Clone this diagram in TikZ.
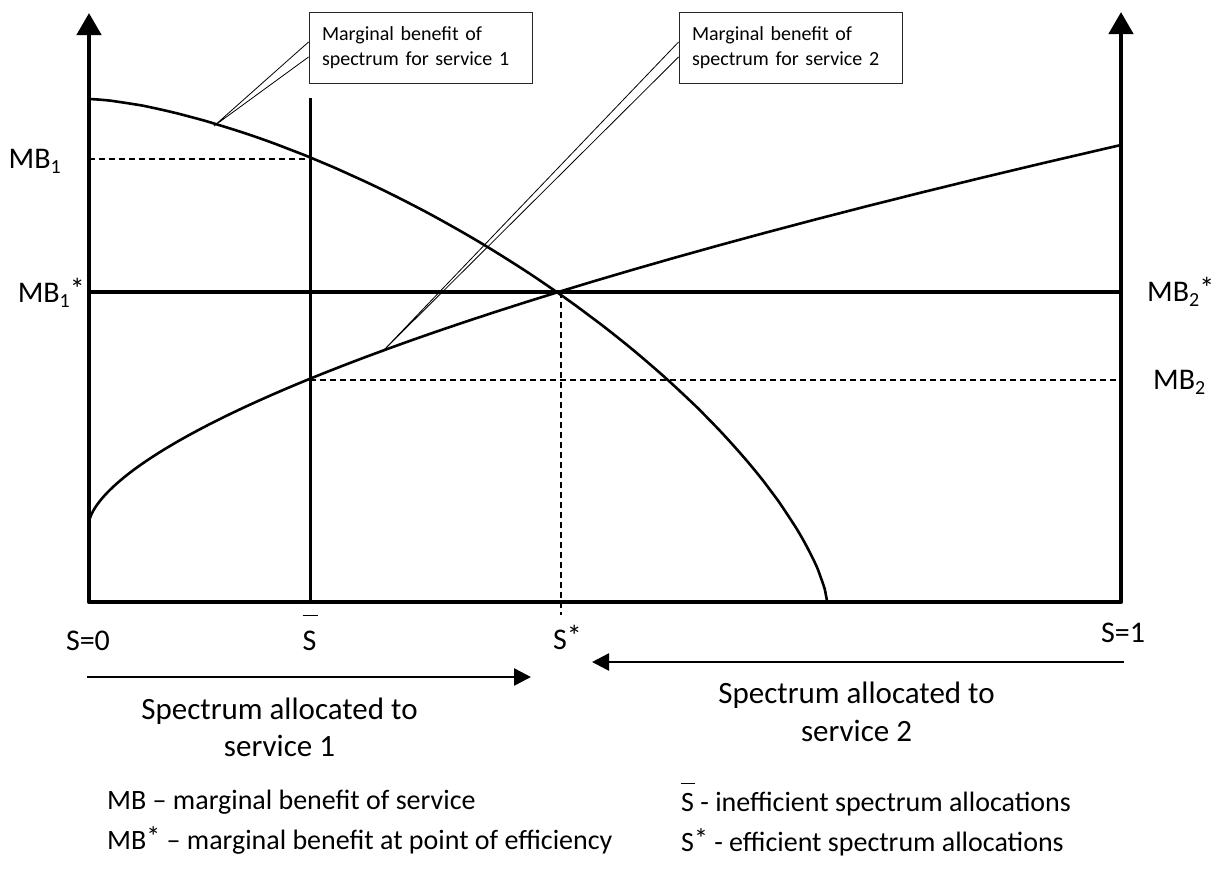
\documentclass[tikz,border=0pt]{standalone}
\usepackage{fontspec}
\setmainfont{Carlito}
\usetikzlibrary{arrows.meta,calc}

% lowered subscript for the MB labels
\newcommand{\lo}[1]{\raisebox{-5pt}{\fontsize{20}{20}\selectfont #1}}
% raised asterisk
\newcommand{\st}{\raisebox{0.1em}{*}}
% S with a bar above it; the argument is the height of the bar
\newcommand{\barS}[1]{\makebox[0pt][l]{\raisebox{#1}{\rule{0.5em}{1.5pt}}}S}

\begin{document}
\begin{tikzpicture}[x=1pt,y=-1pt,
  axis/.style={line width=4.5pt, line join=round,
    {Triangle[length=22pt,width=24pt]}-{Triangle[length=22pt,width=24pt]}},
  curve/.style={line width=2.6pt, line join=round},
  level/.style={line width=3.8pt},
  guide/.style={line width=1.2pt, dash pattern=on 6pt off 4pt},
  flow/.style={line width=2.5pt, -{Triangle[length=17pt,width=17pt]}},
  callbox/.style={draw=black!85, line width=0.9pt, fill=white,
    minimum width=223pt, minimum height=71pt, inner sep=0pt,
    text width=197pt, align=left, font=\fontsize{20}{25}\selectfont},
  wedge/.style={draw=black, line width=0.8pt, fill=white},
  mblab/.style={inner sep=0pt, font=\fontsize{30}{30}\selectfont},
  slab/.style={inner sep=0pt, anchor=base, font=\fontsize{30}{30}\selectfont},
  flowlab/.style={inner sep=0pt, anchor=base, font=\fontsize{31}{31}\selectfont},
  legend/.style={inner sep=0pt, anchor=base west, font=\fontsize{28}{28}\selectfont}
]
\useasboundingbox (0,0) rectangle (1217,879);

% key points
\coordinate (eq) at (561,292);
\coordinate (tip1) at (214,126);
\coordinate (tip2) at (382,352);
\coordinate (mb1top) at (89,99);
\coordinate (mb1end) at (827,602);
\coordinate (mb2start) at (89,523);
\coordinate (mb2end) at (1121,145);

% callout pointers (under the curves)
\node[callbox] (cb1) at (420.5,47.5) {Marginal benefit of\\spectrum for service 1};
\node[callbox] (cb2) at (790.5,47.5) {Marginal benefit of\\spectrum for service 2};
\filldraw[wedge] ($(cb1.west)+(0,-5.5)$) -- (tip1) -- ($(cb1.west)+(0,9.5)$);
\filldraw[wedge] ($(cb2.west)+(0,-5.5)$) -- (tip2) -- ($(cb2.west)+(0,9.5)$);
\node[callbox] at (cb1) {Marginal benefit of\\spectrum for service 1};
\node[callbox] at (cb2) {Marginal benefit of\\spectrum for service 2};

% guide lines
\draw[guide] (89,159) -- (310,159);
\draw[guide] (310,380) -- (1121,380);
\draw[guide] (eq) -- (561,615);

% inefficient allocation and efficient level
\draw[line width=3pt] (310,98) -- (310,602);
\draw[level] (89,292) -- (1121,292);

% marginal benefit of service 1: (u/738)^1.5 + (h/503)^1.45 = 1
\draw[curve] (mb1end) -- plot[smooth, domain=0.05:89.95, samples=70, variable=\t]
  ({89+738*exp(1.3333*ln(cos(\t)))},{602-503*exp(1.3793*ln(sin(\t)))}) -- (mb1top);

% marginal benefit of service 2: h grows as u^(5/8); r^5 and r^8 keep it exact
\draw[curve] (mb2start) -- plot[domain=0:1, samples=120, variable=\r]
  ({89+1032*(\r*\r*\r*\r)*(\r*\r*\r*\r)},{523-378*(\r*\r*\r*\r*\r)}) -- (mb2end);

% axes
\draw[axis] (89,13) -- (89,602) -- (1121,602) -- (1121,12);

% value labels
\node[mblab, anchor=base east] (mb1) at (61,168) {MB\lo{1}};
\node[mblab, anchor=base east] (mb1s) at (85,302) {MB\lo{1}\st};
\node[mblab, anchor=base west] (mb2s) at (1147,301) {MB\lo{2}\st};
\node[mblab, anchor=base west] (mb2) at (1153,389) {MB\lo{2}};

\node[slab] (s0) at (88,650) {S=0};
\node[slab] (sb) at (309.5,650) {\barS{1.13em}};
\node[slab, anchor=base west] (ss) at (553,649) {S\st};
\node[slab, anchor=base west] (s1) at (1101,642) {S=1};

% direction of allocation
\coordinate (a1s) at (87,677);
\coordinate (a1e) at (531,677);
\coordinate (a2s) at (1124,662);
\coordinate (a2e) at (592,662);
\draw[flow] (a1s) -- (a1e);
\draw[flow] (a2s) -- (a2e);

\node[flowlab] (t1a) at (279.5,719) {Spectrum allocated to};
\node[flowlab] (t1b) at (279.5,756) {service 1};
\node[flowlab] (t2a) at (856.5,703) {Spectrum allocated to};
\node[flowlab] (t2b) at (856.5,741) {service 2};

% legend
\node[legend] (l1) at (107,809) {MB – marginal benefit of service};
\node[legend] (l2) at (107,849) {MB\st{} – marginal benefit at point of efficiency};
\node[legend] (l3) at (681,811) {\barS{0.96em} - inefficient spectrum allocations};
\node[legend] (l4) at (681,851) {S\st{} - efficient spectrum allocations};
\end{tikzpicture}
\end{document}
